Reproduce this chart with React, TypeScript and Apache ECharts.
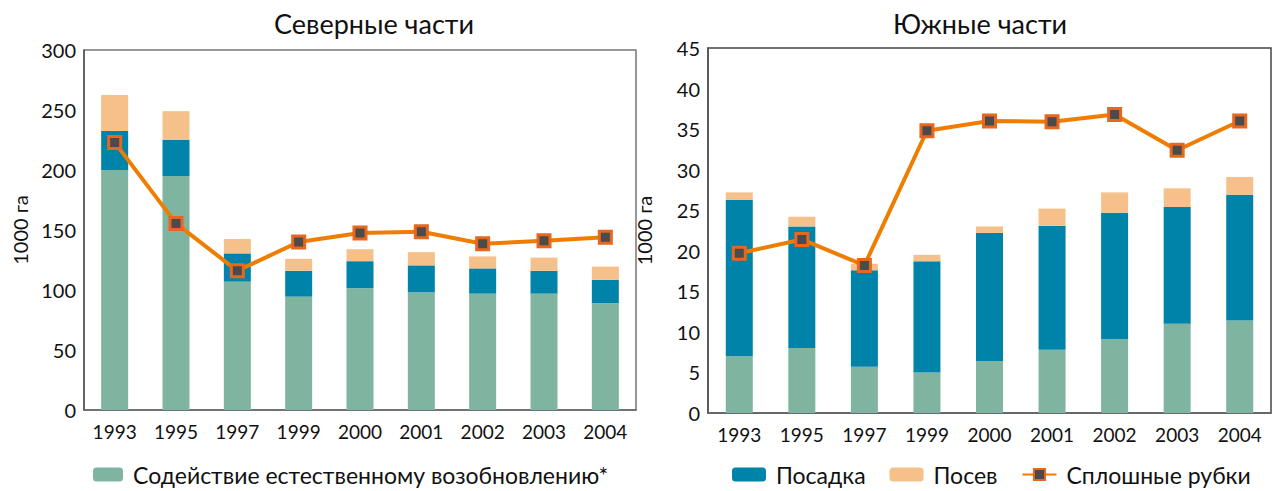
import React, { useEffect, useRef } from "react";
import * as echarts from "echarts";

const years = ["1993", "1995", "1997", "1999", "2000", "2001", "2002", "2003", "2004"];
const northNatural = [200, 195, 107, 94.5, 101.5, 98, 97, 97, 89];
const northPlanting = [32.5, 30, 23.5, 21.5, 22.5, 22.5, 21, 19, 19.5];
const northSowing = [30, 24, 12, 10, 10, 11, 10, 11, 11];
const northClearcut = [223, 155.5, 116, 140, 147.5, 148.5, 138.5, 141, 144];
const southNatural = [7, 8, 5.7, 5, 6.4, 7.8, 9.1, 11, 11.4];
const southPlanting = [19.3, 15, 11.9, 13.7, 15.8, 15.3, 15.6, 14.4, 15.5];
const southSowing = [0.9, 1.2, 0.8, 0.8, 0.8, 2.1, 2.5, 2.3, 2.2];
const southClearcut = [19.7, 21.4, 18.2, 34.8, 36, 35.9, 36.8, 32.4, 36];

const titles = ["Северные части", "Южные части"];
const yName = "1000 га";
const nNatural = "Содействие естественному возобновлению*";
const nPlanting = "Посадка";
const nSowing = "Посев";
const nClearcut = "Сплошные рубки";

const FONT = "Lato";
const C_GREEN = "#7fb4a1";
const C_BLUE = "#0083a9";
const C_PEACH = "#f6c08b";
const C_LINE = "#ef7d00";

export default function App() {
  const ref = useRef<HTMLDivElement>(null);
  useEffect(() => {
    document.body.style.margin = "0";
    const chart = echarts.init(ref.current!, null, { renderer: "svg" });
    const axisLabel = { color: "#111", fontFamily: FONT, fontSize: 20 };
    const xAxisCommon = (gi: number) => ({
      type: "category",
      gridIndex: gi,
      data: years,
      axisTick: { show: false },
      axisLine: { lineStyle: { color: "#666", width: 1.5 } },
      axisLabel: { ...axisLabel, fontSize: 19, margin: 12 },
    });
    const yAxisCommon = (gi: number, max: number, interval: number) => ({
      type: "value",
      gridIndex: gi,
      min: 0,
      max,
      interval,
      name: yName,
      nameLocation: "middle",
      nameGap: 54,
      nameRotate: 90,
      nameTextStyle: { color: "#111", fontFamily: FONT, fontSize: 20 },
      splitLine: { show: false },
      axisTick: { show: false },
      axisLine: { show: true, lineStyle: { color: "#555", width: 1.5 } },
      axisLabel: { ...axisLabel, margin: 8 },
    });
    const bars = (gi: number, nat: number[], pla: number[], sow: number[], clr: number[]) => [
      {
        name: nNatural, type: "bar", stack: "s" + gi, xAxisIndex: gi, yAxisIndex: gi,
        data: nat, barWidth: 27, itemStyle: { color: C_GREEN },
      },
      {
        name: nPlanting, type: "bar", stack: "s" + gi, xAxisIndex: gi, yAxisIndex: gi,
        data: pla, barWidth: 27, itemStyle: { color: C_BLUE },
      },
      {
        name: nSowing, type: "bar", stack: "s" + gi, xAxisIndex: gi, yAxisIndex: gi,
        data: sow, barWidth: 27, itemStyle: { color: C_PEACH },
      },
      {
        name: nClearcut, type: "line", xAxisIndex: gi, yAxisIndex: gi, data: clr, z: 5,
        symbol: "rect", symbolSize: 12,
        lineStyle: { color: C_LINE, width: 4 },
        itemStyle: { color: "#4b4b4b", borderColor: "#e8661e", borderWidth: 3 },
      },
    ];
    chart.setOption({
      animation: false,
      textStyle: { fontFamily: FONT },
      title: [
        { text: titles[0], left: 369, top: 5, textAlign: "center", textStyle: { fontFamily: FONT, fontSize: 27, fontWeight: "normal", color: "#111" } },
        { text: titles[1], left: 975, top: 5, textAlign: "center", textStyle: { fontFamily: FONT, fontSize: 27, fontWeight: "normal", color: "#111" } },
      ],
      legend: [
        {
          data: [nNatural], left: 93, top: 463, padding: 0, itemWidth: 30, itemHeight: 14, itemGap: 20,
          textStyle: { color: "#111", fontFamily: FONT, fontSize: 23, padding: [0, 0, 0, 5] },
          selectedMode: false,
        },
        {
          data: [nPlanting, nSowing, nClearcut], left: 732, top: 463, padding: 0, itemWidth: 34, itemHeight: 14, itemGap: 24,
          textStyle: { color: "#111", fontFamily: FONT, fontSize: 23, padding: [0, 0, 0, 5] },
          selectedMode: false,
        },
      ],
      grid: [
        { left: 84, top: 50, width: 552, height: 360, show: true, borderColor: "#777", borderWidth: 1.5 },
        { left: 708, top: 48, width: 563, height: 365, show: true, borderColor: "#444", borderWidth: 1.5 },
      ],
      xAxis: [xAxisCommon(0), xAxisCommon(1)],
      yAxis: [yAxisCommon(0, 300, 50), yAxisCommon(1, 45, 5)],
      series: [
        ...bars(0, northNatural, northPlanting, northSowing, northClearcut),
        ...bars(1, southNatural, southPlanting, southSowing, southClearcut),
      ],
    });
    return () => chart.dispose();
  }, []);
  return <div ref={ref} style={{ position: "absolute", left: 0, top: 0, width: 1277, height: 491 }} />;
}
